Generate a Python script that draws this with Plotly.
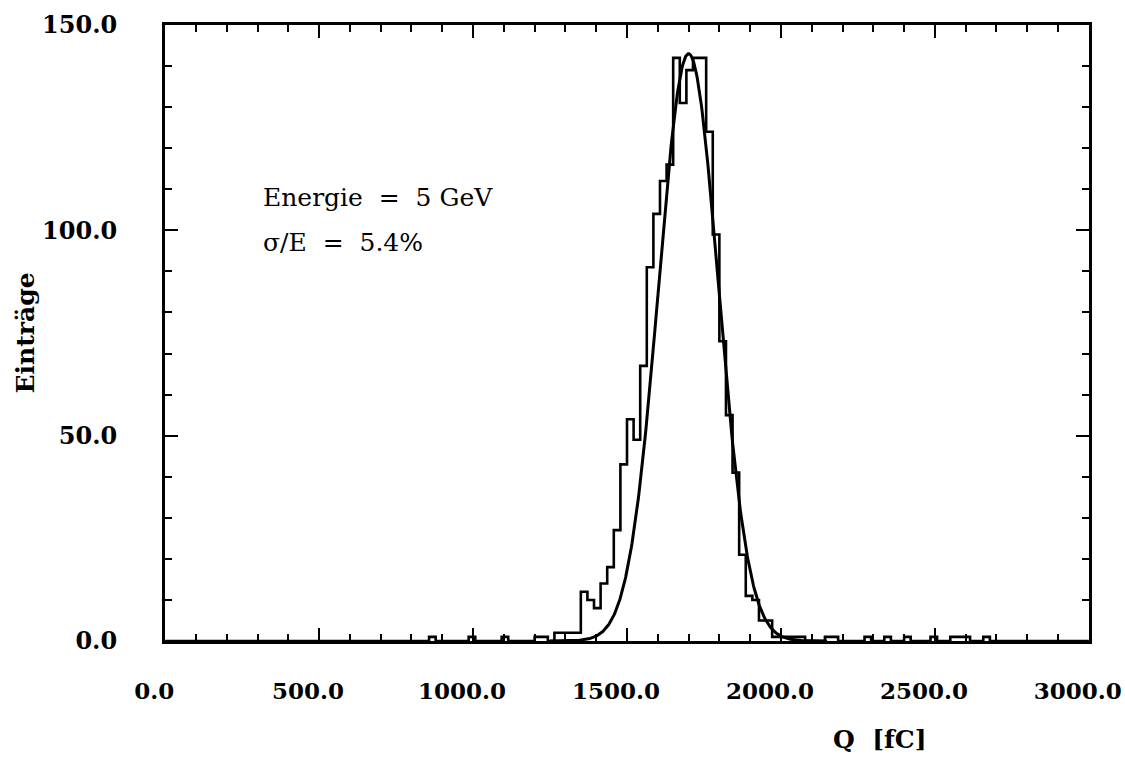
import numpy as np
import plotly.graph_objects as go

# ---- data ----
x_min, x_max = 0.0, 3000.0
n_bins = 140                      # histogram bins over 0..3000 fC
bin_index = [40, 46, 51, 56, 57, 59, 60, 61, 62, 63, 64, 65, 66, 67, 68, 69, 70, 71,
             72, 73, 74, 75, 76, 77, 78, 79, 80, 81, 82, 83, 84, 85, 86, 87, 88, 89,
             90, 91, 92, 93, 94, 95, 96, 100, 101, 106, 109, 112, 116, 119, 120, 121, 124]
bin_counts = [1, 1, 1, 1, 1, 2, 2, 2, 2, 12, 10, 8, 14, 18, 27, 43, 54, 49,
              67, 91, 104, 112, 116, 142, 131, 139, 142, 142, 124, 99, 73, 55, 41, 21, 11, 10,
              5, 5, 1, 1, 1, 1, 1, 1, 1, 1, 1, 1, 1, 1, 1, 1, 1]

# Gaussian fit parameters
fit_amp = 143.0
fit_mean = 1700.0
fit_sigma = 97.0
fit_range = [1250.0, 2150.0]

x_ticks = [0, 500, 1000, 1500, 2000, 2500, 3000]
x_tick_text = ["0.0", "500.0", "1000.0", "1500.0", "2000.0", "2500.0", "3000.0"]
y_ticks = [0, 50, 100, 150]
y_tick_text = ["0.0", "50.0", "100.0", "150.0"]

# ---- build histogram outline ----
width = (x_max - x_min) / n_bins
counts = np.zeros(n_bins)
for i, c in zip(bin_index, bin_counts):
    counts[i] = c
edges = x_min + np.arange(n_bins + 1) * width
hx = edges
hy = np.append(counts, counts[-1])

gx = np.linspace(fit_range[0], fit_range[1], 400)
gy = fit_amp * np.exp(-0.5 * ((gx - fit_mean) / fit_sigma) ** 2)

fig = go.Figure()
fig.add_trace(go.Scatter(x=hx, y=hy, mode="lines", line=dict(shape="hv", color="black", width=2.6),
                         showlegend=False, hoverinfo="skip"))
fig.add_trace(go.Scatter(x=gx, y=gy, mode="lines", line=dict(color="black", width=3),
                         showlegend=False, hoverinfo="skip"))

font_lab = "DejaVu Serif"
fig.update_layout(
    width=1125, height=763,
    margin=dict(l=165, r=36, t=25, b=122),
    paper_bgcolor="white", plot_bgcolor="white",
    font=dict(family=font_lab, color="black"),
)
fig.update_xaxes(
    range=[x_min - 0.5, x_max + 0.5], showgrid=False, zeroline=False, automargin=False,
    showline=True, linecolor="black", linewidth=3, mirror="allticks",
    ticks="inside", ticklen=13, tickwidth=2, tickcolor="black",
    tickvals=x_ticks, ticktext=x_tick_text,
    tickfont=dict(family=font_lab, size=23, color="black", weight="bold"),
    ticklabelstandoff=27, ticklabelshift=-11, ticklabeloverflow="allow",
    minor=dict(ticks="inside", dtick=100, ticklen=7, tickwidth=2, tickcolor="black"),
)
fig.update_yaxes(
    range=[0, 150], showgrid=False, zeroline=False, automargin=False,
    showline=True, linecolor="black", linewidth=3, mirror="allticks",
    ticks="inside", ticklen=13, tickwidth=2, tickcolor="black",
    tickvals=y_ticks, ticktext=y_tick_text,
    tickfont=dict(family=font_lab, size=24, color="black", weight="bold"),
    ticklabelstandoff=40,
    minor=dict(ticks="inside", dtick=10, ticklen=7, tickwidth=2, tickcolor="black"),
)
fig.add_annotation(x=312, y=108, xref="x", yref="y", text="Energie  =  5 GeV",
                   showarrow=False, xanchor="left", yanchor="middle",
                   font=dict(family=font_lab, size=25, color="black"))
fig.add_annotation(x=312, y=97, xref="x", yref="y", text="σ/E  =  5.4%",
                   showarrow=False, xanchor="left", yanchor="middle",
                   font=dict(family=font_lab, size=25, color="black"))
fig.add_annotation(x=-0.151, y=0.5, xref="paper", yref="paper", text="Einträge",
                   showarrow=False, textangle=-90, xanchor="center", yanchor="middle",
                   font=dict(family=font_lab, size=25, color="black", weight="bold"))
fig.add_annotation(x=0.774, y=-0.16, xref="paper", yref="paper", text="Q  [fC]",
                   showarrow=False, xanchor="center", yanchor="middle",
                   font=dict(family=font_lab, size=25, color="black", weight="bold"))
fig.write_html("out.html")
